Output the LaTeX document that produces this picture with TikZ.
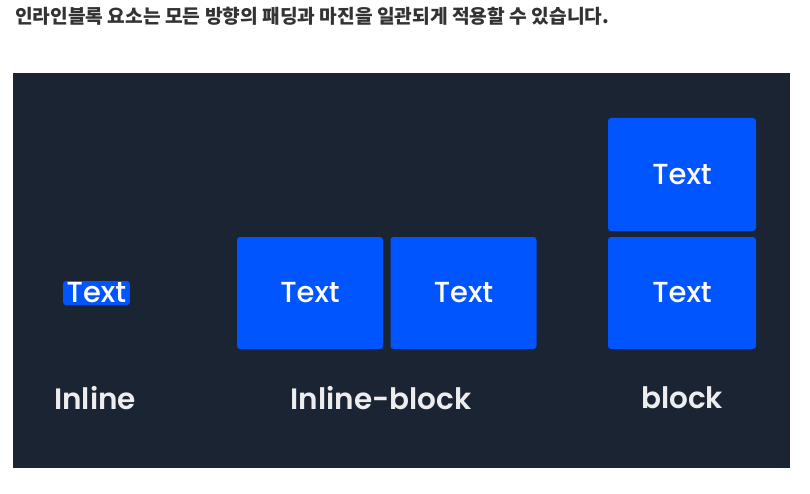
\documentclass[tikz,border=0pt]{standalone}
\usepackage{fontspec}
\setmainfont{Poppins}
\newfontfamily\medfont{Poppins}[UprightFont=* Medium]
\newfontfamily\semifont{Poppins}[UprightFont=* SemiBold]
\newfontfamily\krfont{Noto Sans CJK KR}
\definecolor{panel}{HTML}{1A2433}
\definecolor{boxblue}{HTML}{0055FF}
\definecolor{titlegray}{HTML}{333333}

\begin{document}
\begin{tikzpicture}[x=1pt,y=-1pt]
 \useasboundingbox (0,0) rectangle (810,494);
 \tikzstyle{box} = [fill=boxblue,rounded corners=3pt,inner sep=0pt,
   minimum width=146pt,minimum height=112pt,text=white,
   font=\medfont\fontsize{29}{29}\selectfont]
 \tikzstyle{caption} = [text=white!92!panel,font=\semifont\fontsize{29.5}{29.5}\selectfont]
 \node[anchor=west,text=titlegray,inner sep=0pt,
   font=\krfont\bfseries\fontsize{19.2}{19.2}\selectfont] (title) at (15,16)
   {인라인블록 요소는 모든 방향의 패딩과 마진을 일관되게 적용할 수 있습니다.};
 \fill[panel] (13,73) rectangle (790,468);
 % inline
 \node[fill=boxblue,rounded corners=2.5pt,text=white,inner xsep=3.5pt,inner ysep=0pt,
   minimum height=24pt,font=\medfont\fontsize{29}{29}\selectfont] (inl) at (96.5,293) {Text};
 % inline-block
 \node[box] (ib1) at (310,293) {Text};
 \node[box] (ib2) at (463.5,293) {Text};
 % block
 \node[box,minimum width=148pt,minimum height=113pt] (bk1) at (682,174.5) {Text};
 \node[box,minimum width=148pt] (bk2) at (682,293) {Text};
 \node[caption] (lbl1) at (95,398) {Inline};
 \node[caption] (lbl2) at (381,398) {Inline-block};
 \node[caption] (lbl3) at (682,398) {block};
\end{tikzpicture}
\end{document}
